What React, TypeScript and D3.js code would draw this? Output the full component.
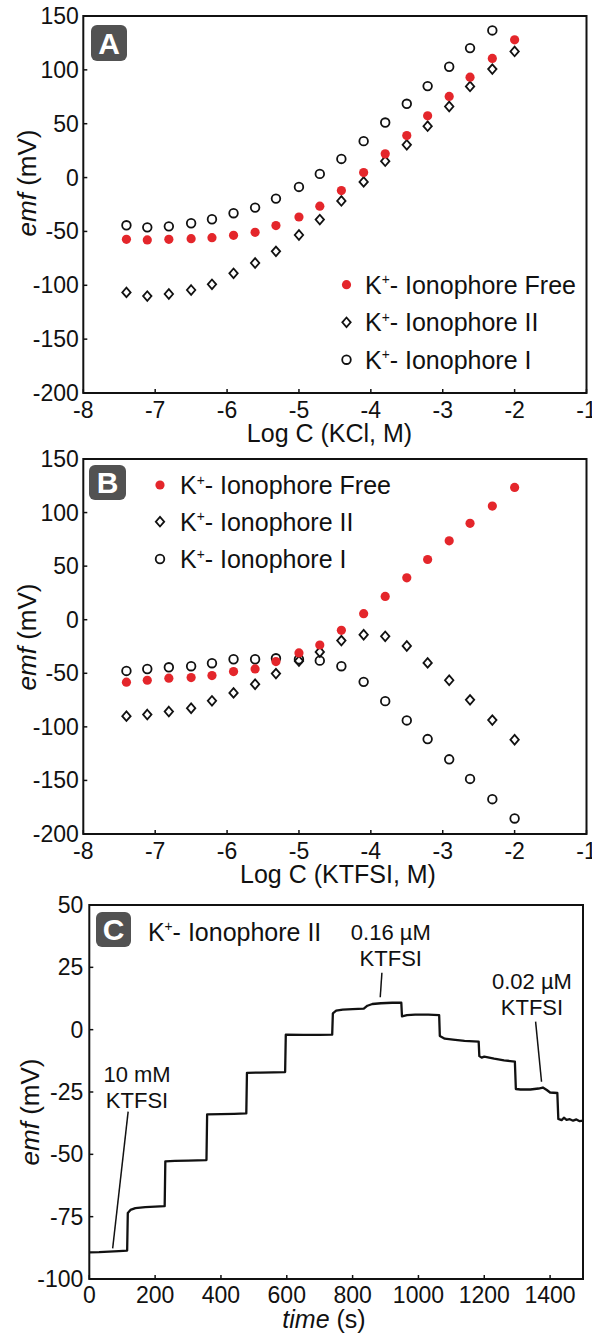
import React from 'react';
import * as d3 from 'd3';

// ---------- Data ----------
const logC = [-7.40, -7.11, -6.81, -6.50, -6.21, -5.91, -5.61, -5.32, -5.00, -4.71, -4.41, -4.10, -3.80, -3.50, -3.21, -2.91, -2.62, -2.31, -2.00];

const kclFree = [-57.3, -57.9, -57.3, -56.7, -55.8, -53.6, -50.8, -44.6, -36.6, -26.6, -12.1, 4.6, 22.0, 39.0, 57.3, 75.3, 93.2, 110.6, 127.9];
const kclII = [-106.6, -110.0, -108.1, -104.4, -99.1, -88.9, -79.3, -68.5, -53.3, -39.0, -21.7, -4.0, 15.2, 30.4, 47.7, 66.0, 84.6, 100.7, 117.1];
const kclI = [-44.3, -46.2, -45.3, -42.4, -38.7, -33.1, -27.9, -19.5, -8.7, 3.4, 17.3, 33.8, 51.1, 68.5, 84.9, 102.9, 120.2, 136.6];

const tfsiFree = [-58.3, -56.5, -54.6, -54.0, -52.1, -48.4, -45.9, -39.1, -31.0, -23.6, -9.9, 5.6, 21.7, 39.1, 56.2, 73.6, 90.0, 106.1, 123.5];
const tfsiII = [-90.0, -88.5, -85.7, -82.6, -75.7, -68.3, -60.2, -50.3, -38.5, -30.1, -19.5, -14.0, -15.5, -24.5, -40.3, -56.5, -74.8, -93.7, -112.0];
const tfsiI = [-47.8, -46.0, -44.4, -43.4, -40.6, -36.9, -36.9, -36.0, -36.9, -38.2, -43.4, -58.0, -76.0, -94.0, -111.4, -130.3, -148.6, -167.5, -185.5];

const timeS = [0, 30, 60, 90, 115, 117, 125, 140, 170, 200, 229, 231, 260, 300, 356, 358, 400, 440, 477, 479, 520, 560, 595, 597, 650, 700, 738, 740, 750, 770, 800, 834, 845, 860, 886, 920, 948, 950, 965, 990, 1030, 1063, 1065, 1080, 1105, 1140, 1183, 1185, 1192, 1200, 1230, 1260, 1293, 1296, 1310, 1340, 1365, 1378, 1390, 1400, 1422, 1425, 1435, 1442, 1450, 1460, 1470, 1480, 1490, 1500];
const emfTrace = [-89.3, -89.2, -89.0, -88.8, -88.6, -73.5, -72.3, -71.6, -71.2, -71.0, -70.8, -52.8, -52.6, -52.5, -52.3, -34.0, -33.9, -33.8, -33.6, -17.3, -17.2, -17.1, -17.0, -2.0, -2.1, -2.1, -2.0, 6.5, 7.6, 8.0, 8.2, 8.4, 9.6, 10.3, 10.6, 10.8, 10.8, 5.3, 5.8, 6.0, 6.0, 5.8, -2.5, -3.6, -4.0, -4.5, -4.8, -10.6, -11.2, -10.8, -11.6, -12.3, -12.8, -23.8, -24.0, -24.0, -23.6, -23.2, -24.2, -25.2, -25.4, -35.8, -36.3, -35.3, -36.2, -35.9, -36.5, -36.0, -36.7, -36.5];

const logTicks = [-8, -7, -6, -5, -4, -3, -2, -1];
const emfTicks = [-200, -150, -100, -50, 0, 50, 100, 150];
const timeTicks = [0, 200, 400, 600, 800, 1000, 1200, 1400];
const emfTicksC = [-100, -75, -50, -25, 0, 25, 50];

const legendNames = ['Ionophore Free', 'Ionophore II', 'Ionophore I'];

// annotations for panel C (data units)
const annotLabels = [
  { t: 145, v: -20.9, lines: ['10 mM', 'KTFSI'], v2: -31.4, from: [118, -32.9], to: [71, -87.7] },
  { t: 916, v: 36.0, lines: ['0.16 µM', 'KTFSI'], v2: 25.5, from: [889, 22.8], to: [884, 13.0] },
  { t: 1345, v: 16.3, lines: ['0.02 µM', 'KTFSI'], v2: 5.9, from: [1356, 3.2], to: [1374, -20.9] },
];

// ---------- Style ----------
const FONT = "'Liberation Sans', Arial, Helvetica, sans-serif";
const RED = '#e4262b';
const INK = '#111';
const BOXFILL = '#525252';
const TICK_FS = 23;

const Diamond = ({ x, y }: { x: number; y: number }) => (
  <path d={`M${x},${y - 4.8}L${x + 4.2},${y}L${x},${y + 4.8}L${x - 4.2},${y}Z`} fill="white" stroke={INK} strokeWidth={1.8} />
);
const Ring = ({ x, y }: { x: number; y: number }) => (
  <circle cx={x} cy={y} r={4.3} fill="white" fillOpacity={0} stroke={INK} strokeWidth={1.8} />
);
const Dot = ({ x, y }: { x: number; y: number }) => <circle cx={x} cy={y} r={4.6} fill={RED} />;

const KLabel = ({ x, y, text, size = 25 }: { x: number; y: number; text: string; size?: number }) => (
  <text x={x} y={y} fontSize={size} fill={INK} fontFamily={FONT}>
    K<tspan fontSize={size * 0.55} dy={-size * 0.38}>+</tspan>
    <tspan dy={size * 0.38}>- {text}</tspan>
  </text>
);

const LetterBox = ({ x, y, w, h, letter }: any) => (
  <g>
    <rect x={x} y={y} width={w} height={h} rx={6} fill={BOXFILL} />
    <text x={x + w / 2} y={y + h / 2 + 10.5} textAnchor="middle" fontSize={30} fontWeight="bold" fill="white" fontFamily={FONT}>
      {letter}
    </text>
  </g>
);

const YTitle = ({ x, y }: { x: number; y: number }) => (
  <text transform={`translate(${x},${y}) rotate(-90)`} textAnchor="middle" fontSize={26} fill={INK} fontFamily={FONT}>
    <tspan fontStyle="italic">emf</tspan> (mV)
  </text>
);

type ScatterProps = {
  top: number;
  bottom: number;
  free: number[];
  two: number[];
  one: number[];
  xTitle: string;
  xTitleX: number;
  yTitleY: number;
  letter: string;
  box: [number, number, number, number];
  legendX: number;
  legendMarkerX: number;
  legendYs: number[];
};

const ScatterPanel = (p: ScatterProps) => {
  const x = d3.scaleLinear().domain([-8, -1]).range([83.3, 586.5]);
  const y = d3.scaleLinear().domain([-200, 150]).range([p.bottom, p.top]);
  const [x0, x1] = x.range();
  return (
    <g>
      {logTicks.map((t) => (
        <g key={'x' + t}>
          <line x1={x(t)} x2={x(t)} y1={p.bottom} y2={p.bottom - 4} stroke={INK} strokeWidth={1.5} />
          <text x={x(t)} y={p.bottom + 25} textAnchor="middle" fontSize={TICK_FS} fill={INK} fontFamily={FONT}>
            {t}
          </text>
        </g>
      ))}
      {emfTicks.map((t) => (
        <g key={'y' + t}>
          <line x1={x0} x2={x0 + 4} y1={y(t)} y2={y(t)} stroke={INK} strokeWidth={1.5} />
          <text x={x0 - 4.5} y={y(t) + 8} textAnchor="end" fontSize={TICK_FS} fill={INK} fontFamily={FONT}>
            {t}
          </text>
        </g>
      ))}
      <rect x={x0} y={p.top} width={x1 - x0} height={p.bottom - p.top} fill="none" stroke={INK} strokeWidth={2} />
      {p.two.map((v, i) => (
        <Diamond key={'d' + i} x={x(logC[i])} y={y(v)} />
      ))}
      {p.one.map((v, i) => (
        <Ring key={'c' + i} x={x(logC[i])} y={y(v)} />
      ))}
      {p.free.map((v, i) => (
        <Dot key={'r' + i} x={x(logC[i])} y={y(v)} />
      ))}
      <Dot x={p.legendMarkerX} y={p.legendYs[0]} />
      <Diamond x={p.legendMarkerX} y={p.legendYs[1]} />
      <Ring x={p.legendMarkerX} y={p.legendYs[2]} />
      {legendNames.map((n, i) => (
        <KLabel key={n} x={p.legendX} y={p.legendYs[i] + 9} text={n} />
      ))}
      <LetterBox x={p.box[0]} y={p.box[1]} w={p.box[2]} h={p.box[3]} letter={p.letter} />
      <text x={p.xTitleX} y={p.bottom + 49} textAnchor="middle" fontSize={25} fill={INK} fontFamily={FONT}>
        {p.xTitle}
      </text>
      <YTitle x={36} y={p.yTitleY} />
    </g>
  );
};

const TracePanel = () => {
  const top = 905;
  const bottom = 1279;
  const x = d3.scaleLinear().domain([0, 1500]).range([89.3, 583]);
  const y = d3.scaleLinear().domain([-100, 50]).range([bottom, top]);
  const [x0, x1] = x.range();
  const line = d3
    .line<number>()
    .x((_, i) => x(timeS[i]))
    .y((v) => y(v))
    .curve(d3.curveLinear);
  return (
    <g>
      {timeTicks.map((t) => (
        <g key={'x' + t}>
          <line x1={x(t)} x2={x(t)} y1={bottom} y2={bottom - 4} stroke={INK} strokeWidth={1.5} />
          <text x={x(t)} y={bottom + 24} textAnchor="middle" fontSize={TICK_FS} fill={INK} fontFamily={FONT}>
            {t}
          </text>
        </g>
      ))}
      {emfTicksC.map((t) => (
        <g key={'y' + t}>
          <line x1={x0} x2={x0 + 4} y1={y(t)} y2={y(t)} stroke={INK} strokeWidth={1.5} />
          <text x={x0 - 6} y={y(t) + 8} textAnchor="end" fontSize={TICK_FS} fill={INK} fontFamily={FONT}>
            {t}
          </text>
        </g>
      ))}
      <rect x={x0} y={top} width={x1 - x0} height={bottom - top} fill="none" stroke={INK} strokeWidth={2} />
      <path d={line(emfTrace) || ''} fill="none" stroke={INK} strokeWidth={2.3} strokeLinejoin="round" />
      {annotLabels.map((a, i) => (
        <g key={i}>
          <text x={x(a.t)} y={y(a.v)} textAnchor="middle" fontSize={22} fill={INK} fontFamily={FONT}>
            {a.lines[0]}
          </text>
          <text x={x(a.t)} y={y(a.v2)} textAnchor="middle" fontSize={22} fill={INK} fontFamily={FONT}>
            {a.lines[1]}
          </text>
          <line x1={x(a.from[0])} y1={y(a.from[1])} x2={x(a.to[0])} y2={y(a.to[1])} stroke={INK} strokeWidth={1.5} />
        </g>
      ))}
      <KLabel x={x(178)} y={y(35.6)} text="Ionophore II" />
      <LetterBox x={96} y={912} w={35} h={35} letter="C" />
      <text x={324} y={1328} textAnchor="middle" fontSize={25} fill={INK} fontFamily={FONT}>
        <tspan fontStyle="italic">time</tspan> (s)
      </text>
      <YTitle x={39} y={1112} />
    </g>
  );
};

export default function App() {
  return (
    <svg
      width={592}
      height={1335}
      viewBox="0 0 592 1335"
      style={{ position: 'absolute', left: 0, top: 0, background: 'white' }}
    >
      <rect x={0} y={0} width={592} height={1335} fill="white" />
      <ScatterPanel
        top={16}
        bottom={393}
        free={kclFree}
        two={kclII}
        one={kclI}
        xTitle="Log C (KCl, M)"
        xTitleX={329.5}
        yTitleY={183}
        letter="A"
        box={[91, 25, 36, 36]}
        legendX={365}
        legendMarkerX={346.5}
        legendYs={[284.7, 322.3, 359.7]}
      />
      <ScatterPanel
        top={459}
        bottom={834}
        free={tfsiFree}
        two={tfsiII}
        one={tfsiI}
        xTitle="Log C (KTFSI, M)"
        xTitleX={338}
        yTitleY={637}
        letter="B"
        box={[89, 465, 37, 35]}
        legendX={180}
        legendMarkerX={160}
        legendYs={[485, 521.7, 559]}
      />
      <TracePanel />
    </svg>
  );
}
